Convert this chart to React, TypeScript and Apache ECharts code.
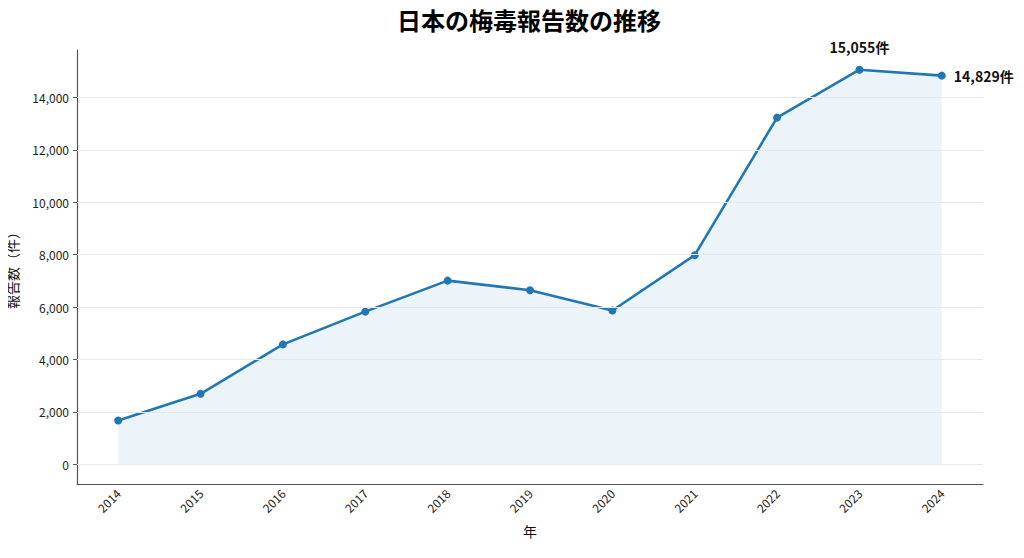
import React, { useEffect, useRef } from "react";
import * as echarts from "echarts";

const years = ["2014", "2015", "2016", "2017", "2018", "2019", "2020", "2021", "2022", "2023", "2024"];
const reports = [1671, 2690, 4575, 5826, 7007, 6642, 5867, 7978, 13228, 15055, 14829];
const yTicks = [0, 2000, 4000, 6000, 8000, 10000, 12000, 14000];
const labeledYears = ["2023", "2024"];

const FONT = "'Noto Sans CJK JP', 'Noto Sans', sans-serif";

export default function App() {
  const ref = useRef<HTMLDivElement>(null);
  useEffect(() => {
    if (!ref.current) return;
    const chart = echarts.init(ref.current, undefined, { renderer: "svg" });
    const dataMax = Math.max(...reports);
    const pad = dataMax * 0.05;
    const annot = (position: string, distance: number) => ({
      show: true,
      position,
      distance,
      formatter: (p: any) => Number(p.value).toLocaleString("en-US") + "件",
      fontFamily: FONT,
      fontWeight: "bold",
      fontSize: 14,
      color: "#111",
    });
    const data = reports.map((v, i) => {
      const y = years[i];
      if (y === labeledYears[0]) return { value: v, label: annot("top", 12) };
      if (y === labeledYears[1]) return { value: v, label: annot("right", 8) };
      return v;
    });
    chart.setOption({
      animation: false,
      textStyle: { fontFamily: FONT },
      title: {
        text: "日本の梅毒報告数の推移",
        left: 524,
        textAlign: "center",
        top: 2,
        textStyle: { fontFamily: FONT, fontSize: 24, fontWeight: "bold", color: "#000" },
      },
      grid: { left: 77, right: 41, top: 50, bottom: 74, outerBoundsMode: "none", containLabel: false },
      xAxis: {
        type: "category",
        data: years,
        boundaryGap: true,
        name: "年",
        nameLocation: "middle",
        nameGap: 40,
        nameTextStyle: { fontFamily: FONT, fontSize: 14, color: "#111" },
        axisLine: { onZero: false, lineStyle: { color: "#555", width: 1.2 } },
        axisTick: { alignWithLabel: true, length: 4, lineStyle: { color: "#555" } },
        axisLabel: { rotate: 45, fontSize: 12, color: "#222", margin: 7, fontFamily: FONT },
        splitLine: { show: false },
      },
      yAxis: {
        type: "value",
        min: -pad,
        max: dataMax + pad,
        name: "報告数（件）",
        nameLocation: "middle",
        nameGap: 58,
        nameTextStyle: { fontFamily: FONT, fontSize: 14, color: "#111" },
        axisLine: { show: true, lineStyle: { color: "#555", width: 1.2 } },
        axisTick: { show: true, length: 4, customValues: yTicks, lineStyle: { color: "#555" } },
        axisLabel: {
          customValues: yTicks,
          fontSize: 12,
          color: "#222",
          margin: 8,
          fontFamily: FONT,
          formatter: (v: number) => v.toLocaleString("en-US"),
        },
        splitLine: { show: false },
      },
      series: [
        {
          type: "line",
          data: [],
          z: 1,
          silent: true,
          markLine: {
            silent: true,
            symbol: "none",
            label: { show: false },
            lineStyle: { color: "#e8e8e8", width: 1, type: "solid" },
            data: yTicks.map((t) => ({ yAxis: t })),
          },
        },
        {
          type: "line",
          data,
          z: 3,
          clip: false,
          symbol: "circle",
          symbolSize: 8,
          lineStyle: { color: "#1f77b4", width: 2.6, join: "round" },
          itemStyle: { color: "#1f77b4", borderWidth: 0 },
          areaStyle: { color: "rgba(31,119,180,0.11)", origin: 0 },
        },
      ],
    });
    return () => chart.dispose();
  }, []);
  return <div ref={ref} style={{ width: 1024, height: 558, margin: -8 }} />;
}
